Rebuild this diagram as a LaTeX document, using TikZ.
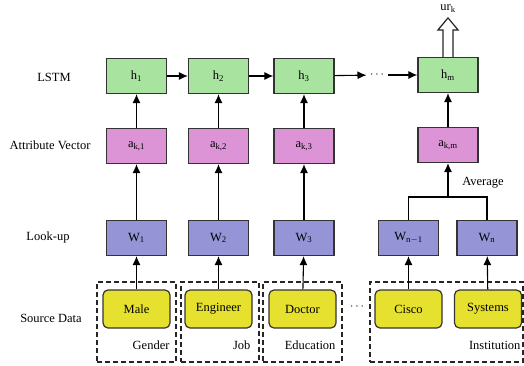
\documentclass[tikz,border=0pt]{standalone}
\usepackage{fontspec}
\setmainfont{Liberation Serif}
\usetikzlibrary{arrows.meta,calc}
\definecolor{lstmgreen}{HTML}{A8E4A0}
\definecolor{attrpink}{HTML}{DD94D6}
\definecolor{lookblue}{HTML}{9494D6}
\definecolor{srcyellow}{HTML}{E6E02E}
\begin{document}
\begin{tikzpicture}[x=1pt, y=-1pt,
    font=\fontsize{12.5}{15}\selectfont,
    box/.style={rectangle, draw=black!80, line width=1.2pt, minimum width=60pt, minimum height=35pt, inner sep=0pt},
    hbox/.style={box, fill=lstmgreen},
    abox/.style={box, fill=attrpink},
    wbox/.style={box, fill=lookblue},
    srcbox/.style={box, fill=srcyellow, rounded corners=5pt, minimum width=67pt, minimum height=38pt},
    group/.style={rectangle, draw=black!85, dash pattern=on 5pt off 3pt, line width=1.1pt, minimum height=80pt, inner sep=0pt},
    arrow/.style={->, >={Latex[length=9pt,width=8pt]}, line width=1.1pt}
]
    \useasboundingbox (0,0) rectangle (524,365);

    % row labels
    \node (lstm) at (54,77) {LSTM};
    \node (attr) at (50,145) {Attribute Vector};
    \node (look) at (48,237) {Look-up};
    \node (source) at (51,318) {Source Data};

    % LSTM
    \node[hbox] (h1) at (136.5,76) {h\textsubscript{1}};
    \node[hbox] (h2) at (218.5,76) {h\textsubscript{2}};
    \node[hbox] (h3) at (304,76) {h\textsubscript{3}};
    \node (hdots) at (377,75) {$\cdots$};
    \node[hbox] (hm) at (448,75) {h\textsubscript{m}};

    % attribute vectors
    \node[abox] (a1) at (136.5,146) {a\textsubscript{k,1}};
    \node[abox] (a2) at (218.5,146) {a\textsubscript{k,2}};
    \node[abox] (a3) at (304,146) {a\textsubscript{k,3}};
    \node[abox] (am) at (448,145) {a\textsubscript{k,m}};

    % look-up
    \node[wbox] (w1) at (136.5,238) {W\textsubscript{1}};
    \node[wbox] (w2) at (218.5,238) {W\textsubscript{2}};
    \node[wbox] (w3) at (304,238) {W\textsubscript{3}};
    \node[wbox] (wn1) at (408.5,238) {W\textsubscript{n$-$1}};
    \node[wbox] (wn) at (487,238) {W\textsubscript{n}};

    % source data
    \node[group, minimum width=79pt] (gender) at (136.5,322) {};
    \node[group, minimum width=78pt] (job) at (220,322) {};
    \node[group, minimum width=79pt] (edu) at (302.5,322) {};
    \node[group, minimum width=153pt] (inst) at (446.5,322) {};
    \node[anchor=east] (genderlab) at (173,345) {Gender};
    \node[anchor=east] (joblab) at (254,345) {Job};
    \node[anchor=east] (edulab) at (339,345) {Education};
    \node[anchor=east] (instlab) at (524,345) {Institution};

    \node[srcbox] (male) at (136.5,309) {Male};
    \node[srcbox] (engineer) at (218.5,309) {Engineer};
    \node[srcbox] (doctor) at (302.5,309) {Doctor};
    \node (sdots) at (357,307) {$\cdots$};
    \node[srcbox] (cisco) at (408.5,309) {Cisco};
    \node[srcbox] (systems) at (488,309) {Systems};

    % connections
    \draw[arrow] (h1) -- (h2);
    \draw[arrow] (h2) -- (h3);
    \draw[arrow] (h3) -- (hdots);
    \draw[arrow] (hdots) -- (hm);

    \draw[arrow] (a1) -- (h1);
    \draw[arrow] (a2) -- (h2);
    \draw[arrow] (a3) -- (h3);
    \draw[arrow] (am) -- (hm);

    \draw[arrow] (w1) -- (a1);
    \draw[arrow] (w2) -- (a2);
    \draw[arrow] (w3) -- (a3);

    \coordinate (avg) at (448,197);
    \draw[line width=1.1pt] (wn1.north) |- (avg) -| (wn.north);
    \draw[arrow] (avg) -- (am);
    \node (avglab) at (483,183) {Average};

    \draw[arrow] (male) -- (w1);
    \draw[arrow] (engineer) -- (w2);
    \draw[arrow] (doctor) -- (w3);
    \draw[arrow] (cisco) -- (wn1);
    \draw[arrow] (systems) -- (wn);

    % output arrow
    \draw[fill=white, draw=black!85, line width=1.2pt] ($(hm.north)+(-5,0)$) -- ++(0,-27) -- ++(-5,0)
        -- ($(hm.north)+(0,-39)$) -- ($(hm.north)+(10,-27)$) -- ++(-5,0) -- ($(hm.north)+(5,0)$);
    \node (urk) at (448,9) {ur\textsubscript{k}};
\end{tikzpicture}
\end{document}
